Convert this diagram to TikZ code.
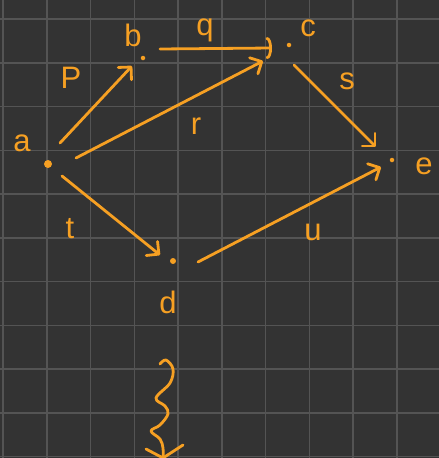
\documentclass[tikz,border=0pt]{standalone}
\usepackage{fontspec}
\setmainfont{Liberation Sans}
\usetikzlibrary{arrows.meta}
\definecolor{bg}{RGB}{51,51,51}
\definecolor{gridc}{RGB}{84,84,84}
\definecolor{ink}{RGB}{246,160,35}
\tikzset{
  dotnode/.style={circle,fill=ink,inner sep=0pt,minimum size=#1},
  lab/.style={text=ink,font=\fontsize{31}{33}\selectfont,inner sep=0pt},
  arr/.style={draw=ink,line width=2.8pt,line cap=round,line join=round,
    -{Straight Barb[length=9pt,width=18pt,round]}},
  arcarr/.style={draw=ink,line width=2.8pt,line cap=round,
    -{Arc Barb[length=5pt,width=22pt,round]}},
  squig/.style={draw=ink,line width=2.8pt,line cap=round,line join=round}
}
\begin{document}
\begin{tikzpicture}[x=1pt,y=-1pt]
\fill[bg] (0,0) rectangle (439,458);
\useasboundingbox (0,0) rectangle (439,458);
% grid
\foreach \k in {0,...,9} {
  \draw[gridc,line width=1.5pt] ({3+43.75*\k},0) -- ({3+43.75*\k},458);
}
\foreach \k in {0,...,10} {
  \draw[gridc,line width=1.5pt] (0,{19+43.75*\k}) -- (439,{19+43.75*\k});
}
% dots
\node[dotnode=8pt] (a) at (48,164) {};
\node[dotnode=4.5pt] (b) at (143,58) {};
\node[dotnode=4.5pt] (c) at (289,45) {};
\node[dotnode=6pt] (d) at (173,261) {};
\node[dotnode=4.5pt] (e) at (392,160) {};
% vertex labels
\node[lab] (la) at (22,143) {a};
\node[lab] (lb) at (133,35) {b};
\node[lab] (lc) at (308,28) {c};
\node[lab] (ld) at (168,302) {d};
\node[lab] (le) at (424,166) {e};
% arrows
\draw[arr] ([shift={(12,-21)}]a.center) -- ([shift={(-11,8)}]b.center);
\draw[arcarr] ([shift={(17,-9)}]b.center) -- ([shift={(-17,3)}]c.center);
\draw[arr] ([shift={(28,-6)}]a.center) -- ([shift={(-26,16)}]c.center);
\draw[arr] ([shift={(5,20)}]c.center) -- ([shift={(-16,-13)}]e.center);
\draw[arr] ([shift={(14,12)}]a.center) -- ([shift={(-13,-6)}]d.center);
\draw[arr] ([shift={(25,1)}]d.center) -- ([shift={(-11,7)}]e.center);
% arrow labels
\node[lab] (lp) at (71,78) {P};
\node[lab] (lq) at (205,30) {q};
\node[lab] (lr) at (196,126) {r};
\node[lab] (ls) at (347,81) {s};
\node[lab] (lt) at (70,229) {t};
\node[lab] (lu) at (313,232) {u};
% squiggle
\coordinate (sqs) at (160,364);
\coordinate (sqt) at (163,458);
\draw[squig] plot[smooth,tension=0.6] coordinates {(sqs) (166,360) (173,369) (170,383) (156,398) (165,406) (168,414) (160,425) (151,431) (160,439) (163,448) (sqt)};
\draw[squig] (146,449) -- (sqt) -- (183,445);
\end{tikzpicture}
\end{document}
